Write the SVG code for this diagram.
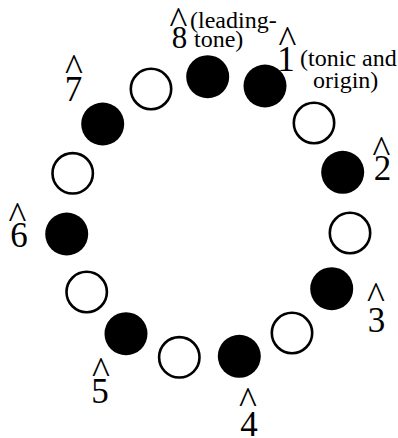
<svg xmlns="http://www.w3.org/2000/svg" width="398" height="438" viewBox="0 0 398 438">
<style>
.b{fill:#000}
.o{fill:#fff;stroke:#000;stroke-width:2.6}
text{font-family:"Liberation Serif","Times New Roman",serif;fill:#000}
.d{font-size:35px;text-anchor:middle}
.h{font-size:38px;text-anchor:middle}
.a{font-size:24px}
</style>
<rect width="398" height="438" fill="#fff"/>
<g id="connectors"></g>
<g id="n8"><circle class="b" cx="207.7" cy="76.7" r="21.5"/><text class="h" x="178.5" y="33">^</text><text class="d" x="179.5" y="48" style="font-size:31px">8</text><text class="a" x="190" y="28">(leading-</text><text class="a" x="194" y="47">tone)</text></g>
<g id="n1"><circle class="b" cx="265" cy="86" r="21.5"/><text class="h" x="287.5" y="52">^</text><text class="d" x="286" y="71">1</text><text class="a" x="300" y="66">(tonic and</text><text class="a" x="313" y="88">origin)</text></g>
<g id="c1"><circle class="o" cx="314" cy="123" r="20.2"/></g>
<g id="n2"><circle class="b" cx="342.7" cy="172.3" r="21.5"/><text class="h" x="381.5" y="162">^</text><text class="d" x="382.5" y="180">2</text></g>
<g id="c2"><circle class="o" cx="350" cy="233" r="20.2"/></g>
<g id="n3"><circle class="b" cx="331.7" cy="288.7" r="21.5"/><text class="h" x="376" y="308">^</text><text class="d" x="376.5" y="332">3</text></g>
<g id="c3"><circle class="o" cx="292" cy="333" r="20.2"/></g>
<g id="n4"><circle class="b" cx="239.3" cy="356.3" r="21.5"/><text class="h" x="248" y="413">^</text><text class="d" x="249" y="435.5">4</text></g>
<g id="c4"><circle class="o" cx="179.3" cy="357.3" r="20.2"/></g>
<g id="n5"><circle class="b" cx="126" cy="333.7" r="21.5"/><text class="h" x="101" y="383">^</text><text class="d" x="100" y="403">5</text></g>
<g id="c5"><circle class="o" cx="86.7" cy="292" r="20.2"/></g>
<g id="n6"><circle class="b" cx="66.7" cy="234" r="21.5"/><text class="h" x="17.5" y="228">^</text><text class="d" x="19" y="247">6</text></g>
<g id="c6"><circle class="o" cx="72.7" cy="173.3" r="20.2"/></g>
<g id="n7"><circle class="b" cx="102.7" cy="124" r="21.5"/><text class="h" x="74" y="80">^</text><text class="d" x="73.5" y="101">7</text></g>
<g id="c7"><circle class="o" cx="151" cy="89" r="20.2"/></g>
</svg>
